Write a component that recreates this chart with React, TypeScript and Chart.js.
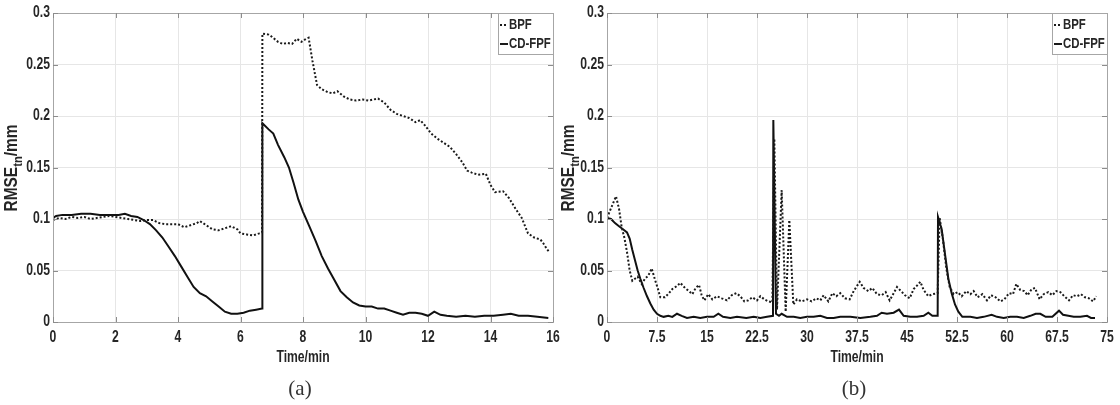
import { useEffect, useRef } from "react";
import { Chart, registerables } from "chart.js";

Chart.register(...registerables);

// ---------- data ----------
const leftBpfT = [0, 0.2, 0.4, 0.6, 0.8, 1.0, 1.2, 1.4, 1.6, 1.8, 2.0, 2.2, 2.4, 2.6, 2.8, 3.0, 3.2, 3.4, 3.6, 3.8, 4.0, 4.2, 4.4, 4.6, 4.7, 4.9, 5.1, 5.3, 5.5, 5.7, 5.9, 6.0, 6.2, 6.4, 6.6, 6.69, 6.7, 6.9, 7.0, 7.2, 7.35, 7.5, 7.65, 7.8, 7.95, 8.1, 8.18, 8.3, 8.45, 8.6, 8.8, 8.95, 9.1, 9.3, 9.5, 9.7, 9.9, 10.1, 10.4, 10.6, 10.8, 11.0, 11.2, 11.4, 11.6, 11.75, 11.9, 12.1, 12.3, 12.5, 12.7, 12.9, 13.1, 13.25, 13.4, 13.6, 13.85, 14.0, 14.15, 14.4, 14.6, 14.8, 15.0, 15.2, 15.4, 15.6, 15.7, 15.8, 15.88];
const leftBpfV = [0.099, 0.101, 0.100, 0.102, 0.101, 0.102, 0.100, 0.101, 0.102, 0.103, 0.102, 0.101, 0.100, 0.099, 0.098, 0.099, 0.099, 0.096, 0.095, 0.095, 0.095, 0.092, 0.094, 0.096, 0.098, 0.094, 0.090, 0.089, 0.091, 0.093, 0.090, 0.086, 0.085, 0.084, 0.086, 0.087, 0.280, 0.279, 0.277, 0.272, 0.270, 0.271, 0.270, 0.275, 0.272, 0.275, 0.276, 0.254, 0.230, 0.226, 0.223, 0.222, 0.224, 0.219, 0.216, 0.215, 0.216, 0.215, 0.217, 0.213, 0.206, 0.202, 0.200, 0.198, 0.194, 0.196, 0.191, 0.183, 0.178, 0.174, 0.170, 0.163, 0.155, 0.147, 0.145, 0.143, 0.144, 0.133, 0.126, 0.127, 0.120, 0.110, 0.101, 0.086, 0.082, 0.080, 0.076, 0.071, 0.068];

const leftCdT = [0, 0.1, 0.3, 0.6, 0.9, 1.2, 1.5, 1.8, 2.1, 2.3, 2.5, 2.7, 2.9, 3.1, 3.3, 3.5, 3.7, 3.9, 4.1, 4.3, 4.5, 4.7, 4.9, 5.1, 5.3, 5.5, 5.7, 5.9, 6.1, 6.3, 6.5, 6.69, 6.7, 6.9, 7.05, 7.2, 7.4, 7.55, 7.7, 7.85, 8.0, 8.2, 8.4, 8.6, 8.8, 9.0, 9.2, 9.4, 9.6, 9.8, 10.0, 10.2, 10.4, 10.6, 10.8, 11.0, 11.2, 11.4, 11.6, 11.8, 12.0, 12.2, 12.4, 12.6, 12.9, 13.2, 13.5, 13.8, 14.1, 14.4, 14.65, 14.9, 15.2, 15.5, 15.85];
const leftCdV = [0.101, 0.103, 0.104, 0.104, 0.105, 0.105, 0.104, 0.104, 0.104, 0.105, 0.103, 0.102, 0.099, 0.095, 0.089, 0.082, 0.073, 0.064, 0.054, 0.044, 0.034, 0.028, 0.025, 0.020, 0.015, 0.010, 0.008, 0.008, 0.009, 0.011, 0.012, 0.013, 0.193, 0.187, 0.183, 0.172, 0.160, 0.150, 0.135, 0.119, 0.107, 0.093, 0.079, 0.064, 0.052, 0.041, 0.030, 0.024, 0.019, 0.016, 0.015, 0.015, 0.013, 0.013, 0.011, 0.009, 0.007, 0.009, 0.009, 0.008, 0.006, 0.010, 0.007, 0.006, 0.005, 0.006, 0.005, 0.006, 0.006, 0.007, 0.008, 0.006, 0.006, 0.005, 0.004];

const rightBpfT = [0, 0.7, 1.35, 1.8, 2.2, 2.6, 3.0, 3.4, 3.8, 4.2, 4.6, 5.2, 5.7, 6.2, 6.7, 7.2, 7.6, 8.0, 8.7, 9.3, 9.8, 10.5, 11.0, 11.7, 12.3, 12.8, 13.3, 13.8, 14.2, 14.6, 15.2, 15.8, 16.5, 17.2, 18.0, 18.7, 19.4, 20.0, 20.6, 21.2, 21.8, 22.5, 23.0, 23.6, 24.2, 24.8, 25.1, 25.5, 26.2, 26.8, 27.35, 27.95, 28.5, 29.2, 30.0, 30.7, 31.4, 32.0, 32.5, 33.2, 33.8, 34.4, 35.0, 35.7, 36.4, 37.0, 37.9, 38.5, 39.2, 39.8, 40.5, 41.2, 41.8, 42.4, 43.0, 43.5, 44.1, 44.7, 45.4, 46.0, 46.6, 47.0, 47.5, 48.2, 48.8, 49.6, 49.9, 50.4, 50.9, 51.4, 52.0, 52.6, 53.2, 53.9, 54.5, 55.0, 55.6, 56.3, 57.0, 57.6, 58.3, 59.0, 59.6, 60.3, 60.9, 61.4, 62.0, 62.6, 63.1, 63.7, 64.2, 64.9, 65.5, 66.2, 66.8, 67.4, 68.0, 68.6, 69.3, 69.9, 70.5, 71.1, 71.7, 72.3, 72.9, 73.4];
const rightBpfV = [0.101, 0.112, 0.122, 0.110, 0.092, 0.082, 0.068, 0.050, 0.040, 0.042, 0.044, 0.037, 0.042, 0.045, 0.052, 0.041, 0.033, 0.024, 0.024, 0.028, 0.032, 0.035, 0.038, 0.033, 0.030, 0.027, 0.033, 0.036, 0.026, 0.021, 0.027, 0.022, 0.025, 0.023, 0.021, 0.026, 0.028, 0.025, 0.020, 0.021, 0.024, 0.021, 0.025, 0.022, 0.020, 0.019, 0.178, 0.012, 0.128, 0.010, 0.099, 0.017, 0.022, 0.020, 0.022, 0.020, 0.023, 0.021, 0.026, 0.020, 0.028, 0.025, 0.028, 0.023, 0.022, 0.030, 0.039, 0.033, 0.030, 0.033, 0.027, 0.026, 0.029, 0.021, 0.028, 0.034, 0.030, 0.026, 0.023, 0.032, 0.036, 0.039, 0.031, 0.025, 0.027, 0.028, 0.101, 0.080, 0.052, 0.034, 0.027, 0.029, 0.025, 0.030, 0.027, 0.030, 0.024, 0.027, 0.021, 0.026, 0.024, 0.020, 0.022, 0.028, 0.027, 0.037, 0.031, 0.030, 0.026, 0.032, 0.033, 0.022, 0.027, 0.029, 0.026, 0.030, 0.029, 0.025, 0.021, 0.026, 0.025, 0.027, 0.024, 0.023, 0.020, 0.025];

const rightCdT = [0, 0.6, 1.2, 1.8, 2.4, 3.0, 3.4, 3.8, 4.2, 4.6, 5.0, 5.5, 6.0, 6.5, 7.0, 7.5, 8.0, 8.5, 9.2, 9.8, 10.5, 11.2, 12.0, 13.0, 14.0, 15.0, 16.0, 16.7, 17.4, 18.5, 19.5, 20.9, 22.0, 23.0, 24.0, 24.9, 24.95, 25.35, 25.8, 26.2, 27.0, 28.0, 29.0, 30.0, 31.0, 32.0, 33.0, 34.0, 35.0, 36.5, 38.0, 39.5, 40.5, 41.2, 42.0, 43.0, 43.8, 44.5, 45.5, 46.5, 47.5, 48.2, 48.8, 49.6, 49.65, 50.2, 50.7, 51.2, 51.7, 52.2, 52.7, 53.3, 54.5, 55.5, 56.5, 57.7, 58.5, 59.5, 60.5, 61.5, 62.5, 63.5, 64.3, 65.0, 65.8, 66.8, 67.8, 68.4, 69.2, 70.0, 71.0, 72.0, 72.6, 73.2];
const rightCdV = [0.101, 0.100, 0.096, 0.093, 0.090, 0.087, 0.081, 0.070, 0.060, 0.050, 0.042, 0.033, 0.025, 0.018, 0.012, 0.008, 0.006, 0.005, 0.006, 0.005, 0.008, 0.006, 0.004, 0.005, 0.004, 0.005, 0.005, 0.008, 0.005, 0.004, 0.005, 0.004, 0.005, 0.004, 0.005, 0.006, 0.196, 0.008, 0.006, 0.008, 0.005, 0.005, 0.004, 0.005, 0.005, 0.006, 0.004, 0.004, 0.005, 0.005, 0.004, 0.005, 0.006, 0.009, 0.008, 0.009, 0.012, 0.006, 0.005, 0.005, 0.006, 0.009, 0.006, 0.006, 0.102, 0.090, 0.066, 0.042, 0.028, 0.017, 0.010, 0.005, 0.005, 0.004, 0.005, 0.007, 0.005, 0.004, 0.005, 0.005, 0.004, 0.006, 0.008, 0.008, 0.005, 0.005, 0.011, 0.007, 0.006, 0.005, 0.005, 0.006, 0.004, 0.004];

const yTickLabels = ["0", "0.05", "0.1", "0.15", "0.2", "0.25", "0.3"];
const leftXTickLabels = ["0", "2", "4", "6", "8", "10", "12", "14", "16"];
const rightXTickLabels = ["0", "7.5", "15", "22.5", "30", "37.5", "45", "52.5", "60", "67.5", "75"];
const seriesNames = ["BPF", "CD-FPF"];
const xTitle = "Time/min";

// ---------- styles ----------
const FONT = "'Liberation Sans', Arial, sans-serif";
const TEXT = "#262626";
const GRID = "#e6e6e6";
const FRAME = "#a6a6a6";
const SQUEEZE = 0.76; // condensed look of the original bold labels
const LABEL_SIZE = 16;
const LEGEND_SIZE = 15;

function zip(t: number[], v: number[]) {
  return t.map((x, i) => ({ x, y: v[i] }));
}

function narrowText(ctx: CanvasRenderingContext2D, text: string, x: number, y: number, align: CanvasTextAlign, size: number) {
  ctx.save();
  ctx.translate(x, y);
  ctx.scale(SQUEEZE, 1);
  ctx.font = `bold ${size}px ${FONT}`;
  ctx.textAlign = align;
  ctx.textBaseline = "middle";
  ctx.fillText(text, 0, 0);
  ctx.restore();
}

type PanelProps = {
  bpfT: number[];
  bpfV: number[];
  cdT: number[];
  cdV: number[];
  xMax: number;
  xStep: number;
  xLabels: string[];
  caption: string;
  plotLeft: number;
  plotRight: number;
  titleX: number;
};

const W = 560;
const H = 405;
const TOP = 13;
const BOTTOM = 322;

function Panel(p: PanelProps) {
  const ref = useRef<HTMLCanvasElement | null>(null);
  useEffect(() => {
    if (!ref.current) return;
    const overlay = {
      id: "overlay",
      afterDatasetsDraw(chart: any) {
        const ctx = chart.ctx;
        const a = chart.chartArea;
        const xs = chart.scales.x;
        const ys = chart.scales.y;
        ctx.save();
        ctx.strokeStyle = FRAME;
        ctx.lineWidth = 1;
        ctx.strokeRect(Math.round(a.left) + 0.5, Math.round(a.top) + 0.5, Math.round(a.right - a.left), Math.round(a.bottom - a.top));
        // inner ticks
        ctx.strokeStyle = "#8c8c8c";
        ctx.beginPath();
        xs.ticks.forEach((t: any) => {
          const px = Math.round(xs.getPixelForValue(t.value)) + 0.5;
          ctx.moveTo(px, a.top);
          ctx.lineTo(px, a.top + 5);
          ctx.moveTo(px, a.bottom);
          ctx.lineTo(px, a.bottom - 5);
        });
        ys.ticks.forEach((t: any) => {
          const py = Math.round(ys.getPixelForValue(t.value)) + 0.5;
          ctx.moveTo(a.left, py);
          ctx.lineTo(a.left + 5, py);
          ctx.moveTo(a.right, py);
          ctx.lineTo(a.right - 5, py);
        });
        ctx.stroke();

        // legend
        const lw = 55;
        const lh = 41;
        const lx = Math.round(a.right) - lw;
        const ly = Math.round(a.top);
        ctx.fillStyle = "#fff";
        ctx.fillRect(lx, ly, lw, lh);
        ctx.strokeStyle = FRAME;
        ctx.strokeRect(lx + 0.5, ly + 0.5, lw, lh);
        ctx.lineWidth = 2;
        ctx.strokeStyle = "#1a1a1a";
        ctx.setLineDash([2, 2]);
        ctx.beginPath();
        ctx.moveTo(lx + 2, ly + 12);
        ctx.lineTo(lx + 10, ly + 12);
        ctx.stroke();
        ctx.setLineDash([]);
        ctx.beginPath();
        ctx.moveTo(lx + 2, ly + 31);
        ctx.lineTo(lx + 10, ly + 31);
        ctx.stroke();
        ctx.fillStyle = TEXT;
        narrowText(ctx, seriesNames[0], lx + 11, ly + 12, "left", LEGEND_SIZE);
        narrowText(ctx, seriesNames[1], lx + 11, ly + 31, "left", LEGEND_SIZE);
        ctx.restore();
      },
      afterDraw(chart: any) {
        const ctx = chart.ctx;
        const a = chart.chartArea;
        const xs = chart.scales.x;
        const ys = chart.scales.y;
        const cx = (a.left + a.right) / 2;
        ctx.save();
        ctx.fillStyle = TEXT;
        // tick labels
        xs.ticks.forEach((t: any, i: number) => {
          narrowText(ctx, p.xLabels[i], xs.getPixelForValue(t.value), 338, "center", LABEL_SIZE);
        });
        ys.ticks.forEach((t: any, i: number) => {
          narrowText(ctx, yTickLabels[i], a.left - 3, ys.getPixelForValue(t.value), "right", LABEL_SIZE);
        });
        narrowText(ctx, xTitle, cx, 358, "center", LABEL_SIZE);

        ctx.font = `21px 'Liberation Serif', 'Times New Roman', serif`;
        ctx.fillStyle = "#333";
        ctx.textAlign = "center";
        ctx.textBaseline = "middle";
        ctx.fillText(p.caption, cx - 3, 389);

        // y title with subscript
        ctx.fillStyle = TEXT;
        ctx.translate(p.titleX, 168);
        ctx.rotate(-Math.PI / 2);
        ctx.scale(0.86, 1);
        const mainFont = `bold 18px ${FONT}`;
        const subFont = `bold 13px ${FONT}`;
        ctx.font = mainFont;
        const w1 = ctx.measureText("RMSE").width;
        const w3 = ctx.measureText("/mm").width;
        ctx.font = subFont;
        const w2 = ctx.measureText("tn").width;
        let x0 = -(w1 + w2 + w3) / 2;
        ctx.textAlign = "left";
        ctx.textBaseline = "alphabetic";
        ctx.font = mainFont;
        ctx.fillText("RMSE", x0, 6);
        x0 += w1;
        ctx.font = subFont;
        ctx.fillText("tn", x0, 11);
        x0 += w2;
        ctx.font = mainFont;
        ctx.fillText("/mm", x0, 6);
        ctx.restore();
      },
    };

    const chart = new Chart(ref.current, {
      type: "line",
      data: {
        datasets: [
          {
            label: seriesNames[0],
            data: zip(p.bpfT, p.bpfV),
            borderColor: "#1a1a1a",
            borderWidth: 2,
            borderDash: [2, 2],
            pointRadius: 0,
            tension: 0,
            fill: false,
          },
          {
            label: seriesNames[1],
            data: zip(p.cdT, p.cdV),
            borderColor: "#111",
            borderWidth: 2,
            pointRadius: 0,
            tension: 0,
            fill: false,
          },
        ],
      },
      options: {
        animation: false,
        responsive: false,
        devicePixelRatio: 1,
        layout: { padding: { left: 0, right: W - p.plotRight, top: TOP, bottom: 0 } },
        plugins: { legend: { display: false }, tooltip: { enabled: false } },
        scales: {
          x: {
            type: "linear",
            min: 0,
            max: p.xMax,
            afterFit: (s: any) => {
              s.height = H - BOTTOM;
            },
            ticks: {
              display: false,
              stepSize: p.xStep,
              autoSkip: false,
              maxRotation: 0,
            },
            grid: { color: GRID, drawTicks: false },
            border: { color: FRAME },
          },
          y: {
            min: 0,
            max: 0.3,
            afterFit: (s: any) => {
              s.width = p.plotLeft;
            },
            ticks: {
              display: false,
              stepSize: 0.05,
            },
            grid: { color: GRID, drawTicks: false },
            border: { color: FRAME },
          },
        },
      },
      plugins: [overlay],
    } as any);
    return () => chart.destroy();
  }, []);
  return <canvas ref={ref} width={W} height={H} style={{ width: W, height: H, display: "block" }} />;
}

export default function App() {
  return (
    <div style={{ position: "absolute", left: 0, top: 0, width: 1120, height: 405, background: "#fff", display: "flex" }}>
      <Panel
        bpfT={leftBpfT}
        bpfV={leftBpfV}
        cdT={leftCdT}
        cdV={leftCdV}
        xMax={16}
        xStep={2}
        xLabels={leftXTickLabels}
        caption="(a)"
        plotLeft={53}
        plotRight={553}
        titleX={11}
      />
      <Panel
        bpfT={rightBpfT}
        bpfV={rightBpfV}
        cdT={rightCdT}
        cdV={rightCdV}
        xMax={75}
        xStep={7.5}
        xLabels={rightXTickLabels}
        caption="(b)"
        plotLeft={47}
        plotRight={547}
        titleX={8}
      />
    </div>
  );
}
